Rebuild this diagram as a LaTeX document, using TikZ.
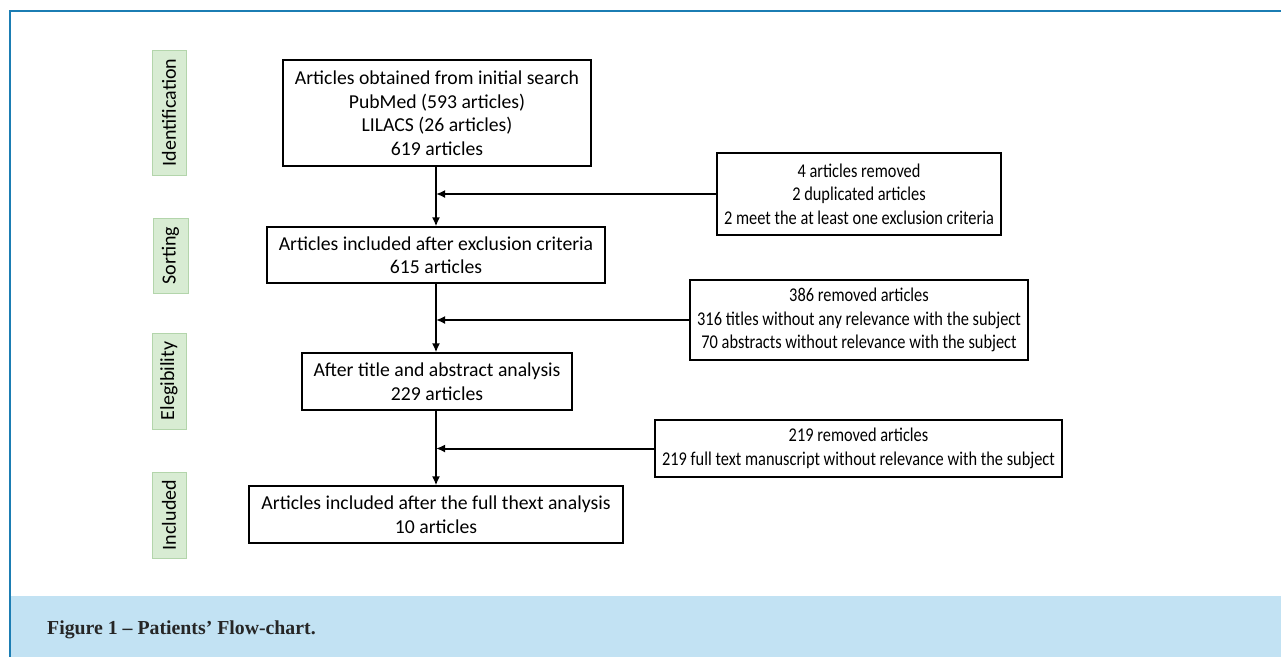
\documentclass[tikz,border=0pt]{standalone}
\usepackage{fontspec}
\usetikzlibrary{arrows.meta}
\setmainfont{Carlito}
\newfontfamily\sidefont[FakeStretch=0.84]{Carlito}
\newfontfamily\capfont{Liberation Serif}
\definecolor{frameblue}{HTML}{1B7DB3}
\definecolor{capblue}{HTML}{C2E2F3}
\definecolor{stagefill}{HTML}{D8ECD3}
\definecolor{stageline}{HTML}{B3D5AB}
\begin{document}
\begin{tikzpicture}[x=1pt,y=-1pt,
	flowbox/.style={draw,line width=1.2pt,align=center,inner sep=0pt,font=\fontsize{19.7}{23.5}\selectfont},
	sidebox/.style={flowbox,font=\sidefont\fontsize{19.5}{23.5}\selectfont},
	stage/.style={fill=stagefill,draw=stageline,line width=0.8pt,rotate=90,inner sep=0pt,font=\fontsize{20}{22}\selectfont},
	flow/.style={-{Latex[length=9pt,width=8pt]},line width=2pt}]
		\useasboundingbox (0,0) rectangle (1281,657);

		\fill[capblue] (10,596) rectangle (1281,657);
		\draw[frameblue,line width=2pt] (1281,11) -- (10,11) -- (10,657);

		\node[stage,minimum width=125pt,minimum height=34pt] (sident) at (169,112.5) {Identification};
		\node[stage,minimum width=75pt,minimum height=35pt] (ssort) at (170.5,255.5) {Sorting};
		\node[stage,minimum width=96pt,minimum height=34pt] (selig) at (169,381) {Elegibility};
		\node[stage,minimum width=86pt,minimum height=34pt] (sincl) at (169,515) {Included};

		\node[flowbox,minimum width=308pt,minimum height=106pt] (search) at (437,113) {Articles obtained from initial search\\PubMed (593 articles)\\LILACS (26 articles)\\619 articles};
		\node[flowbox,minimum width=338pt,minimum height=56pt] (sorted) at (436,255) {Articles included after exclusion criteria\\615 articles};
		\node[flowbox,minimum width=270pt,minimum height=57pt] (abstr) at (437,381.5) {After title and abstract analysis\\229 articles};
		\node[flowbox,minimum width=374pt,minimum height=57pt] (final) at (436,514.5) {Articles included after the full thext analysis\\10 articles};

		\node[sidebox,minimum width=284pt,minimum height=82pt] (rem1) at (859,194) {4 articles removed\\2 duplicated articles\\2 meet the at least one exclusion criteria};
		\node[sidebox,minimum width=338pt,minimum height=80pt] (rem2) at (859,320) {386 removed articles\\316 titles without any relevance with the subject\\70 abstracts without relevance with the subject};
		\node[sidebox,minimum width=407pt,minimum height=57pt] (rem3) at (858.5,448.5) {219 removed articles\\219 full text manuscript without relevance with the subject};

		\draw[flow] (search.south -| sorted.north) -- (sorted.north);
		\draw[flow] (sorted.south) -- (sorted.south |- abstr.north);
		\draw[flow] (abstr.south -| sorted.south) -- (final.north);

		\draw[flow] (rem1.west) -- (rem1.west -| sorted.north);
		\draw[flow] (rem2.west) -- (rem2.west -| sorted.north);
		\draw[flow] (rem3.west) -- (rem3.west -| sorted.north);

		\node[anchor=base west,inner sep=0pt,text=black!85,font=\capfont\bfseries\fontsize{19.8}{22}\selectfont] (caption) at (47,634) {Figure 1 – Patients’ Flow-chart.};
	\end{tikzpicture}
\end{document}
